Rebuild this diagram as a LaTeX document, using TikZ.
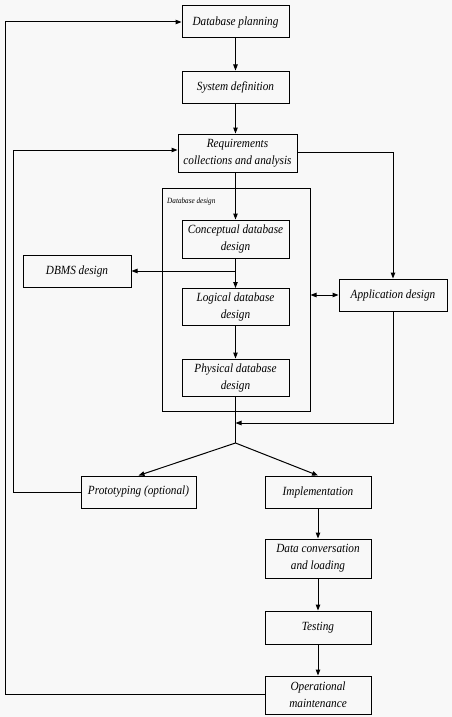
\documentclass[tikz,border=0pt]{standalone}
\usepackage{fontspec}
\setmainfont{Liberation Serif}[FakeStretch=0.9]
\usetikzlibrary{arrows.meta}
\definecolor{bgc}{RGB}{248,248,248}
\begin{document}
\begin{tikzpicture}[x=1pt,y=-1pt,
  box/.style={draw, line width=1pt, inner sep=1pt, align=center,
    font=\itshape\fontsize{12.5}{17}\selectfont},
  frame/.style={draw, line width=1pt},
  arr/.style={-{Triangle[length=6pt,width=4.5pt]}, line width=1pt},
  dbl/.style={{Triangle[length=6pt,width=4.5pt]}-{Triangle[length=6pt,width=4.5pt]}, line width=1pt},
  ln/.style={line width=1pt}]
\fill[bgc] (0,0) rectangle (452,717);
\useasboundingbox (0,0) rectangle (452,717);

\node[frame, minimum width=148pt, minimum height=223pt] (dbd) at (236,299.5) {};
\node[anchor=west, font=\itshape\fontsize{8}{9}\selectfont, inner sep=0pt] (dbdl) at (167,202) {Database design};

\node[box, minimum width=107pt, minimum height=32pt] (dp) at (235.5,22) {Database planning};
\node[box, minimum width=107pt, minimum height=32pt] (sd) at (235.5,87) {System definition};
\node[box, minimum width=119pt, minimum height=38pt] (req) at (237.5,153) {Requirements\\collections and analysis};
\node[box, minimum width=107pt, minimum height=38pt] (cdd) at (235.5,239) {Conceptual database\\design};
\node[box, minimum width=108pt, minimum height=32pt] (dbms) at (77,271) {DBMS design};
\node[box, minimum width=107pt, minimum height=37pt] (ldd) at (235.5,307) {Logical database\\design};
\node[box, minimum width=107pt, minimum height=37pt] (pdd) at (235.5,377.5) {Physical database\\design};
\node[box, minimum width=108pt, minimum height=32pt] (app) at (393,295) {Application design};
\node[box, minimum width=115pt, minimum height=32pt] (proto) at (138.5,492) {Prototyping (optional)};
\node[box, minimum width=106pt, minimum height=32pt] (impl) at (318,492) {Implementation};
\node[box, minimum width=106pt, minimum height=39pt] (dcl) at (318,558.5) {Data conversation\\and loading};
\node[box, minimum width=106pt, minimum height=33pt] (test) at (318,627.5) {Testing};
\node[box, minimum width=106pt, minimum height=38pt] (om) at (318,695) {Operational\\maintenance};

\coordinate (join) at (235.5,423);
\coordinate (split) at (235.5,443);
\coordinate (lin) at (13,150);
\coordinate (lout) at (5,694);

\draw[arr] (dp) -- (sd);
\draw[arr] (sd.south) -- (sd.south |- req.north);
\draw[arr] (cdd.north |- req.south) -- (cdd.north);
\draw[arr] (cdd) -- (ldd);
\draw[arr] (cdd.south |- dbms.east) -- (dbms.east);
\draw[arr] (ldd) -- (pdd);
\draw[dbl] (dbd.east |- app.west) -- (app.west);
\draw[arr] ([yshift=1pt]req.east) -| (app.north);
\draw[arr] (app.south) |- (join);
\draw[ln] (pdd.south) -- (split);
\draw[arr] (split) -- (proto.north);
\draw[arr] (split) -- (impl.north);
\draw[arr] (proto.west) -| (lin) -- (lin -| req.west);
\draw[arr] (om.west |- lout) -- (lout) |- (dp.west);
\draw[arr] (impl) -- (dcl);
\draw[arr] (dcl) -- (test);
\draw[arr] (test) -- (om);
\end{tikzpicture}
\end{document}
